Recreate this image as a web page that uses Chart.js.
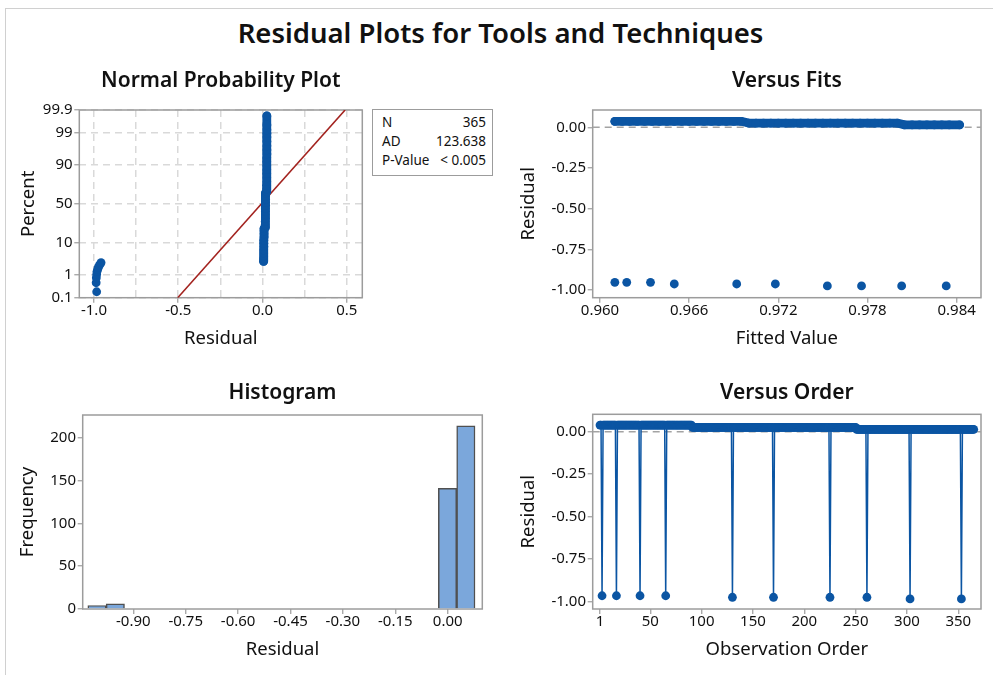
<!DOCTYPE html>
<html>
<head>
<meta charset="utf-8">
<title>Residual Plots for Tools and Techniques</title>
<script src="https://cdn.jsdelivr.net/npm/chart.js@4.4.1/dist/chart.umd.min.js"></script>
<style>
  html, body { margin: 0; padding: 0; background: #fff; }
  #page { position: relative; width: 993px; height: 675px; overflow: hidden; font-family: 'Noto Sans', sans-serif; color: #111; }
  #edge { position: absolute; left: 5px; top: 8px; width: 1000px; height: 700px; border-left: 1px solid #d0d0d0; border-top: 1px solid #d0d0d0; }
  #main-title { position: absolute; left: 0; top: 16px; width: 1001px; text-align: center; font-size: 27.5px; font-weight: 600; line-height: 33px; }
  canvas { position: absolute; }
  #stats { position: absolute; left: 372px; top: 109px; width: 121px; height: 67px; border: 1.5px solid #9c9c9c; box-sizing: border-box;
           font-size: 13.5px; padding: 3px 6px 0 9px; }
  #stats .row { display: flex; justify-content: space-between; height: 19.2px; line-height: 19.2px; }
</style>
</head>
<body>
<div id="page">
  <div id="edge"></div>
  <div id="main-title">Residual Plots for Tools and Techniques</div>
  <canvas id="npp" width="372" height="300" style="left:0;top:60px"></canvas>
  <canvas id="fits" width="493" height="300" style="left:500px;top:60px"></canvas>
  <canvas id="hist" width="492" height="300" style="left:0;top:370px"></canvas>
  <canvas id="order" width="493" height="300" style="left:500px;top:370px"></canvas>
  <div id="stats"></div>
</div>
<script>
// Minitab style 4-in-1 residual plots

// ── DATA ──────────────────────────────────────────────────────────────────────
// normal probability plot (residual, percent)
const probTicks = [0.1, 1, 10, 50, 90, 99, 99.9];
const nppGridX = [-1, -0.75, -0.5, -0.25, 0, 0.25, 0.5];
const nppOutResid = [-0.984, -0.987, -0.986, -0.984, -0.982, -0.978, -0.974, -0.969, -0.963, -0.958];
const nppOutPct   = [0.19, 0.47, 0.74, 1.01, 1.29, 1.56, 1.83, 2.11, 2.38, 2.66];
const nppBandPct = [2.93, 3.5, 4.3, 5.3, 6.5, 8, 9.7, 11.6, 13.8, 16.2, 18.7, 20.8,
                    21.8, 24.5, 28, 32, 36, 40, 44, 48, 52, 56, 60, 64,
                    65.5, 69, 73, 77, 80.5, 84, 87, 89.5, 91.7, 93.5, 95, 96.2, 97.2, 98, 98.6, 99.0, 99.26, 99.53, 99.81];
const nppBandResid = [0.006, 0.006, 0.007, 0.007, 0.007, 0.008, 0.008, 0.008, 0.009, 0.009, 0.009, 0.009,
                      0.016, 0.016, 0.016, 0.017, 0.017, 0.017, 0.017, 0.018, 0.018, 0.018, 0.018, 0.018,
                      0.024, 0.024, 0.024, 0.025, 0.025, 0.025, 0.025, 0.025, 0.025, 0.025, 0.026, 0.026, 0.026, 0.026, 0.026, 0.026, 0.026, 0.026, 0.026];
const fitLineResid = [-0.503, 0.49];
const fitLinePct = [0.1, 99.9];
const statLabels = ['N', 'AD', 'P-Value'];
const statValues = ['365', '123.638', '< 0.005'];

// versus fits
const fitsTicks = [0.960, 0.966, 0.972, 0.978, 0.984];
const residTicks = [0, -0.25, -0.5, -0.75, -1];
const fitsBandFit = [0.9610, 0.9615, 0.9620, 0.9625, 0.9630, 0.9635, 0.9640, 0.9645, 0.9650, 0.9655, 0.9660, 0.9665, 0.9670, 0.9675, 0.9680, 0.9685, 0.9690, 0.9695,
                     0.9700, 0.9705, 0.9710, 0.9715, 0.9720, 0.9725, 0.9730, 0.9735, 0.9740, 0.9745, 0.9750, 0.9755, 0.9760, 0.9765, 0.9770, 0.9775, 0.9780, 0.9785, 0.9790, 0.9795, 0.9800,
                     0.9805, 0.9810, 0.9815, 0.9820, 0.9825, 0.9830, 0.9835, 0.9842];
const fitsBandResid = [0.037, 0.037, 0.037, 0.037, 0.037, 0.037, 0.037, 0.037, 0.037, 0.037, 0.037, 0.037, 0.037, 0.037, 0.037, 0.037, 0.037, 0.037,
                       0.026, 0.026, 0.026, 0.026, 0.026, 0.026, 0.026, 0.026, 0.026, 0.026, 0.026, 0.026, 0.026, 0.026, 0.026, 0.026, 0.026, 0.026, 0.026, 0.026, 0.026,
                       0.015, 0.015, 0.015, 0.015, 0.015, 0.015, 0.015, 0.015];
const fitsOutFit   = [0.9610, 0.9618, 0.9634, 0.9650, 0.9692, 0.9718, 0.9753, 0.9776, 0.9803, 0.9833];
const fitsOutResid = [-0.953, -0.953, -0.953, -0.963, -0.963, -0.963, -0.975, -0.975, -0.975, -0.975];

// histogram
const histMid   = [-1.004, -0.9515, -0.0005, 0.052];
const histCount = [4, 6, 141, 214];
const histTicks = [-0.90, -0.75, -0.60, -0.45, -0.30, -0.15, 0.00];
const freqTicks = [0, 50, 100, 150, 200];

// versus order: residual of observations 1..365, ten per line
const orderTicks = [1, 50, 100, 150, 200, 250, 300, 350];
const orderResid = [
  0.039, 0.039, -0.965, 0.039, 0.039, 0.039, 0.039, 0.039, 0.039, 0.039,
  0.039, 0.039, 0.039, 0.039, 0.039, 0.039, -0.965, 0.039, 0.039, 0.039,
  0.039, 0.039, 0.039, 0.039, 0.039, 0.039, 0.039, 0.039, 0.039, 0.039,
  0.039, 0.039, 0.039, 0.039, 0.039, 0.039, 0.039, 0.039, 0.039, -0.965,
  0.039, 0.039, 0.039, 0.039, 0.039, 0.039, 0.039, 0.039, 0.039, 0.039,
  0.039, 0.039, 0.039, 0.039, 0.039, 0.039, 0.039, 0.039, 0.039, 0.039,
  0.039, 0.039, 0.039, 0.039, -0.965, 0.039, 0.039, 0.039, 0.039, 0.039,
  0.039, 0.039, 0.039, 0.039, 0.039, 0.039, 0.039, 0.039, 0.039, 0.039,
  0.039, 0.039, 0.039, 0.039, 0.039, 0.039, 0.039, 0.039, 0.039, 0.039,
  0.026, 0.026, 0.026, 0.026, 0.026, 0.026, 0.026, 0.026, 0.026, 0.026,
  0.026, 0.026, 0.026, 0.026, 0.026, 0.026, 0.026, 0.026, 0.026, 0.026,
  0.026, 0.026, 0.026, 0.026, 0.026, 0.026, 0.026, 0.026, 0.026, 0.026,
  0.026, 0.026, 0.026, 0.026, 0.026, 0.026, 0.026, 0.026, 0.026, -0.974,
  0.026, 0.026, 0.026, 0.026, 0.026, 0.026, 0.026, 0.026, 0.026, 0.026,
  0.026, 0.026, 0.026, 0.026, 0.026, 0.026, 0.026, 0.026, 0.026, 0.026,
  0.026, 0.026, 0.026, 0.026, 0.026, 0.026, 0.026, 0.026, 0.026, 0.026,
  0.026, 0.026, 0.026, 0.026, 0.026, 0.026, 0.026, 0.026, 0.026, -0.974,
  0.026, 0.026, 0.026, 0.026, 0.026, 0.026, 0.026, 0.026, 0.026, 0.026,
  0.026, 0.026, 0.026, 0.026, 0.026, 0.026, 0.026, 0.026, 0.026, 0.026,
  0.026, 0.026, 0.026, 0.026, 0.026, 0.026, 0.026, 0.026, 0.026, 0.026,
  0.026, 0.026, 0.026, 0.026, 0.026, 0.026, 0.026, 0.026, 0.026, 0.026,
  0.026, 0.026, 0.026, 0.026, 0.026, 0.026, 0.026, 0.026, 0.026, 0.026,
  0.026, 0.026, 0.026, 0.026, -0.974, 0.026, 0.026, 0.026, 0.026, 0.026,
  0.026, 0.026, 0.026, 0.026, 0.026, 0.026, 0.026, 0.026, 0.026, 0.026,
  0.026, 0.026, 0.026, 0.026, 0.026, 0.026, 0.026, 0.026, 0.026, 0.026,
  0.014, 0.014, 0.014, 0.014, 0.014, 0.014, 0.014, 0.014, 0.014, 0.014,
  -0.974, 0.014, 0.014, 0.014, 0.014, 0.014, 0.014, 0.014, 0.014, 0.014,
  0.014, 0.014, 0.014, 0.014, 0.014, 0.014, 0.014, 0.014, 0.014, 0.014,
  0.014, 0.014, 0.014, 0.014, 0.014, 0.014, 0.014, 0.014, 0.014, 0.014,
  0.014, 0.014, 0.014, 0.014, 0.014, 0.014, 0.014, 0.014, 0.014, 0.014,
  0.014, 0.014, -0.984, 0.014, 0.014, 0.014, 0.014, 0.014, 0.014, 0.014,
  0.014, 0.014, 0.014, 0.014, 0.014, 0.014, 0.014, 0.014, 0.014, 0.014,
  0.014, 0.014, 0.014, 0.014, 0.014, 0.014, 0.014, 0.014, 0.014, 0.014,
  0.014, 0.014, 0.014, 0.014, 0.014, 0.014, 0.014, 0.014, 0.014, 0.014,
  0.014, 0.014, 0.014, 0.014, 0.014, 0.014, 0.014, 0.014, 0.014, 0.014,
  0.014, 0.014, -0.984, 0.014, 0.014, 0.014, 0.014, 0.014, 0.014, 0.014,
  0.014, 0.014, 0.014, 0.014, 0.014
];

// ── STYLE ─────────────────────────────────────────────────────────────────────
const FONT = "'Noto Sans', sans-serif";
const INK = '#111';
const FRAME = '#9c9c9c';
const GRIDC = '#d9d9d9';
const BLUE = '#0b55a3';
const RED = '#a3231f';
const DOT = 4.4;

Chart.defaults.font.family = FONT;
Chart.defaults.color = INK;

// inverse normal cdf (Acklam) for the probability axis
function probit(p) {
  const a = [-3.969683028665376e+01, 2.209460984245205e+02, -2.759285104469687e+02, 1.383577518672690e+02, -3.066479806614716e+01, 2.506628277459239e+00];
  const b = [-5.447609879822406e+01, 1.615858368580409e+02, -1.556989798598866e+02, 6.680131188771972e+01, -1.328068155288572e+01];
  const c = [-7.784894002430293e-03, -3.223964580411365e-01, -2.400758277161838e+00, -2.549732539343734e+00, 4.374664141464968e+00, 2.938163982698783e+00];
  const d = [7.784695709041462e-03, 3.224671290700398e-01, 2.445134137142996e+00, 3.754408661907416e+00];
  const lo = 0.02425;
  if (p < lo) {
    const q = Math.sqrt(-2 * Math.log(p));
    return (((((c[0]*q+c[1])*q+c[2])*q+c[3])*q+c[4])*q+c[5]) / ((((d[0]*q+d[1])*q+d[2])*q+d[3])*q+1);
  }
  if (p > 1 - lo) {
    const q = Math.sqrt(-2 * Math.log(1 - p));
    return -(((((c[0]*q+c[1])*q+c[2])*q+c[3])*q+c[4])*q+c[5]) / ((((d[0]*q+d[1])*q+d[2])*q+d[3])*q+1);
  }
  const q = p - 0.5, r = q * q;
  return (((((a[0]*r+a[1])*r+a[2])*r+a[3])*r+a[4])*r+a[5])*q / (((((b[0]*r+b[1])*r+b[2])*r+b[3])*r+b[4])*r+1);
}
const zOf = pct => probit(pct / 100);

// plot frame round the chart area
const frame = {
  id: 'frame',
  beforeDatasetsDraw(chart) {
    const { ctx, chartArea: a } = chart;
    ctx.save();
    ctx.strokeStyle = FRAME;
    ctx.lineWidth = 1.5;
    ctx.strokeRect(a.left, a.top, a.right - a.left, a.bottom - a.top);
    ctx.restore();
  }
};

function axis(o) {
  return {
    type: 'linear', min: o.min, max: o.max, offset: false,
    afterBuildTicks: sc => { sc.ticks = o.ticks.map(v => ({ value: v })); },
    afterFit: o.horizontal ? sc => { sc.height = o.size; } : sc => { sc.width = o.size; },
    ticks: { autoSkip: false, maxRotation: 0, padding: o.horizontal ? -1 : 1.7, color: INK, font: { size: 15 }, callback: o.fmt },
    grid: { offset: false, drawOnChartArea: !!o.grid, color: GRIDC, lineWidth: 1.5, tickLength: 5, tickWidth: 1.2,
            tickColor: o.tickColor || FRAME, tickBorderDash: [] },
    border: { display: false, dash: o.grid ? [7, 5] : [] },
    title: { display: true, text: o.title, color: INK, font: { size: 18.5 },
             padding: o.horizontal ? { top: 0, bottom: o.titlePad } : { top: o.titlePad, bottom: 0 } }
  };
}

function panelOptions(title, titlePad, rightPad, x, y) {
  return {
    responsive: false, animation: false, events: [], devicePixelRatio: 1,
    layout: { padding: { top: 0, left: 0, bottom: 0, right: rightPad } },
    plugins: {
      legend: { display: false }, tooltip: { enabled: false },
      title: { display: true, text: title, fullSize: false, color: INK, font: { size: 21, weight: '600' }, padding: titlePad }
    },
    scales: { x, y }
  };
}

const dots = { pointRadius: DOT, pointBackgroundColor: BLUE, pointBorderWidth: 0, borderColor: BLUE };
const band = { showLine: true, borderWidth: DOT * 2, borderCapStyle: 'round', borderJoinStyle: 'round' };
const isHalf = v => Math.abs(v * 2 - Math.round(v * 2)) < 1e-9;

// ── NORMAL PROBABILITY PLOT ───────────────────────────────────────────────────
new Chart(document.getElementById('npp'), {
  type: 'scatter',
  data: {
    datasets: [
      Object.assign({ data: nppOutResid.map((r, i) => ({ x: r, y: zOf(nppOutPct[i]) })) }, dots),
      Object.assign({ data: nppBandResid.map((r, i) => ({ x: r, y: zOf(nppBandPct[i]) })) }, dots, band),
      { data: fitLineResid.map((r, i) => ({ x: r, y: zOf(fitLinePct[i]) })), showLine: true, pointRadius: 0,
        borderColor: RED, borderWidth: 1.6 }
    ]
  },
  options: panelOptions('Normal Probability Plot', { top: 8.4, bottom: 16.4 }, 9.7,
    axis({ horizontal: true, min: -1.087, max: 0.592, ticks: nppGridX, grid: true, size: 62.3, titlePad: 10.6,
           title: 'Residual', fmt: v => isHalf(v) ? v.toFixed(1) : '',
           tickColor: ctx => isHalf(ctx.tick.value) ? FRAME : 'rgba(0,0,0,0)' }),
    axis({ min: zOf(0.1), max: zOf(99.9), ticks: probTicks.map(zOf), grid: true, size: 79.3, titlePad: 17.2,
           title: 'Percent', fmt: (v, i) => String(probTicks[i]) })),
  plugins: [frame]
});

document.getElementById('stats').innerHTML = statLabels
  .map((l, i) => `<div class="row"><span>${l}</span><span>${statValues[i]}</span></div>`).join('');

// ── VERSUS FITS ───────────────────────────────────────────────────────────────
const fitsRange = [0.95951, 0.98564];
new Chart(document.getElementById('fits'), {
  type: 'scatter',
  data: {
    datasets: [
      Object.assign({ data: fitsBandFit.map((f, i) => ({ x: f, y: fitsBandResid[i] })) }, dots, band),
      Object.assign({ data: fitsOutFit.map((f, i) => ({ x: f, y: fitsOutResid[i] })) }, dots),
      { data: fitsRange.map(f => ({ x: f, y: 0 })), showLine: true, pointRadius: 0,
        borderColor: '#a3a3a3', borderWidth: 1.5, borderDash: [7, 5] }
    ]
  },
  options: panelOptions('Versus Fits', { top: 8.1, bottom: 16.7 }, 12,
    axis({ horizontal: true, min: fitsRange[0], max: fitsRange[1], ticks: fitsTicks, size: 62.3, titlePad: 10.6,
           title: 'Fitted Value', fmt: v => v.toFixed(3) }),
    axis({ min: -1.0473, max: 0.1063, ticks: residTicks, size: 92.7, titlePad: 17.2,
           title: 'Residual', fmt: v => v.toFixed(2) })),
  plugins: [frame]
});

// ── HISTOGRAM ─────────────────────────────────────────────────────────────────
new Chart(document.getElementById('hist'), {
  type: 'bar',
  data: {
    datasets: [{
      data: histMid.map((m, i) => ({ x: m, y: histCount[i] })),
      backgroundColor: '#7ba7db', borderColor: '#505050', borderWidth: 1.5,
      barPercentage: 1, categoryPercentage: 1
    }]
  },
  options: panelOptions('Histogram', { top: 10.7, bottom: 9.1 }, 9.7,
    axis({ horizontal: true, min: -1.0449, max: 0.0991, ticks: histTicks, size: 61, titlePad: 8.9,
           title: 'Residual', fmt: v => v.toFixed(2) }),
    axis({ min: 0, max: 226.5, ticks: freqTicks, size: 82.7, titlePad: 16.9,
           title: 'Frequency', fmt: v => String(v) })),
  plugins: [frame]
});

// ── VERSUS ORDER ──────────────────────────────────────────────────────────────
const orderRange = [-6.11, 372.1];
new Chart(document.getElementById('order'), {
  type: 'scatter',
  data: {
    datasets: [
      Object.assign({ data: orderResid.map((r, i) => ({ x: i + 1, y: r })), showLine: true, borderWidth: 1.5 }, dots),
      { data: orderRange.map(o => ({ x: o, y: 0 })), showLine: true, pointRadius: 0,
        borderColor: '#a3a3a3', borderWidth: 1.5, borderDash: [7, 5] }
    ]
  },
  options: panelOptions('Versus Order', { top: 10.7, bottom: 8.4 }, 12,
    axis({ horizontal: true, min: orderRange[0], max: orderRange[1], ticks: orderTicks, size: 61, titlePad: 8.9,
           title: 'Observation Order', fmt: v => String(v) }),
    axis({ min: -1.043, max: 0.1024, ticks: residTicks, size: 92.7, titlePad: 17.2,
           title: 'Residual', fmt: v => v.toFixed(2) })),
  plugins: [frame]
});
</script>
</body>
</html>
